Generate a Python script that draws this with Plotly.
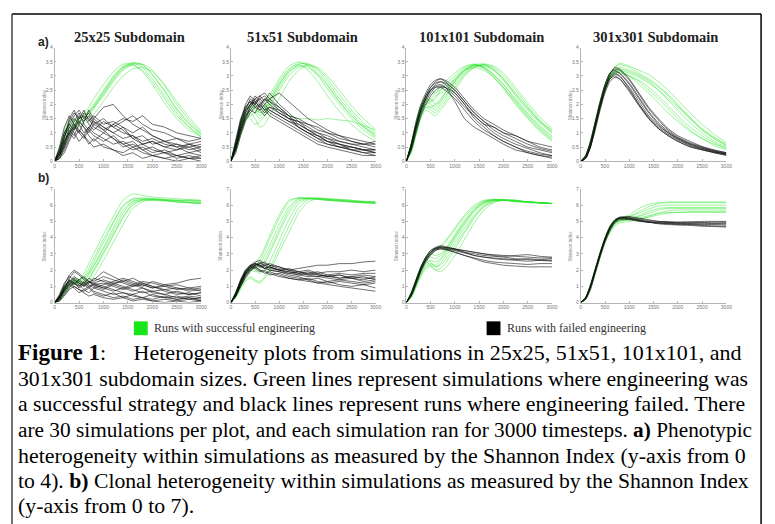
import plotly.graph_objects as go

# The page body has an 8px margin: the figure is sized to fill the rest of the window.
OFF = 8
W, H = 775 - OFF, 524 - OFF

# ---------------- data ----------------
T = [0, 100, 200, 300, 400, 500, 600, 700, 800, 1000, 1200, 1400, 1600, 1800, 2000, 2250, 2500, 2750, 3000]
PANEL_TITLES = ["25x25 Subdomain", "51x51 Subdomain", "101x101 Subdomain", "301x301 Subdomain"]
X_TICKS = [0, 500, 1000, 1500, 2000, 2500, 3000]
Y_TICKS_A = [0, 0.5, 1, 1.5, 2, 2.5, 3, 3.5, 4]
Y_TICK_LABELS_A = ["0", "0.5", "1", "1.5", "2", "2.5", "3", "3.5", "4"]
Y_TICKS_B = [0, 1, 2, 3, 4, 5, 6, 7]

# a) phenotypic heterogeneity
A1_GREEN = [
    [0,0.3,0.9,1.3,1.2,1.4,1.5,1.7,1.9,2.4,2.9,3.3,3.45,3.3,2.9,2.3,1.7,1.2,0.85],
    [0,0.2,0.7,1.1,1.4,1.5,1.6,1.8,2.0,2.5,3.0,3.35,3.48,3.4,3.05,2.45,1.8,1.3,0.95],
    [0,0.4,1.0,1.4,1.5,1.4,1.5,1.7,1.9,2.3,2.8,3.2,3.4,3.42,3.2,2.65,2.0,1.45,1.0],
    [0,0.1,0.5,0.9,1.2,1.5,1.7,1.9,2.2,2.7,3.15,3.42,3.4,3.15,2.7,2.05,1.5,1.1,0.85],
    [0,0.3,0.8,1.2,1.3,1.2,1.3,1.45,1.65,2.1,2.6,3.0,3.25,3.3,3.15,2.7,2.1,1.55,1.05],
    [0,0.2,0.6,1.0,1.3,1.5,1.6,1.75,1.95,2.45,2.95,3.3,3.38,3.2,2.8,2.2,1.6,1.2,0.9],
    [0,0.5,1.1,1.5,1.4,1.3,1.45,1.6,1.85,2.35,2.85,3.25,3.45,3.38,3.05,2.5,1.85,1.35,0.95],
]
A1_BLACK = [
    [0,0.4,1.0,1.3,1.6,1.8,1.5,1.7,1.4,1.2,1.0,0.8,0.9,0.6,0.7,0.5,0.4,0.6,0.5],
    [0,0.2,0.6,1.1,0.9,1.3,1.7,1.5,1.2,1.0,1.3,1.1,0.8,0.9,0.6,0.7,0.5,0.3,0.4],
    [0,0.3,0.8,1.5,1.8,1.4,1.2,1.0,1.3,1.5,1.2,1.4,1.6,1.3,1.1,1.0,0.8,0.7,0.8],
    [0,0.1,0.4,0.8,1.2,1.0,1.4,1.6,1.3,1.1,0.8,0.6,0.7,0.4,0.5,0.3,0.2,0.3,0.2],
    [0,0.5,1.2,1.6,1.3,1.0,0.8,1.1,0.9,0.7,0.9,0.6,0.4,0.5,0.3,0.4,0.2,0.1,0.2],
    [0,0.2,0.7,1.0,1.4,1.7,1.3,1.1,1.5,1.9,2.0,1.6,1.3,1.1,0.9,0.7,0.6,0.5,0.6],
    [0,0.3,0.9,1.2,1.0,0.7,0.9,1.2,1.0,0.8,0.6,0.7,0.5,0.6,0.4,0.3,0.4,0.5,0.3],
    [0,0.1,0.3,0.7,1.1,1.5,1.8,1.4,1.6,1.3,1.4,1.2,1.0,1.2,0.9,0.7,0.8,0.6,0.7],
    [0,0.4,1.0,1.3,1.1,1.4,1.2,0.9,0.7,1.0,0.8,0.5,0.6,0.4,0.2,0.3,0.1,0.2,0.1],
    [0,0.2,0.5,0.9,1.3,1.1,0.9,0.6,0.8,0.5,0.4,0.3,0.5,0.3,0.2,0.1,0.2,0.1,0.1],
    [0,0.3,0.8,1.4,1.7,1.5,1.6,1.3,1.1,1.4,1.2,1.0,0.9,0.7,0.8,0.6,0.5,0.6,0.4],
    [0,0.1,0.5,1.0,1.2,1.6,1.4,1.8,1.5,1.2,1.0,1.2,0.8,0.6,0.7,0.5,0.6,0.4,0.5],
    [0,0.2,0.6,1.2,1.5,1.3,1.0,1.2,1.4,1.1,1.3,1.5,1.4,1.6,1.3,1.2,1.0,0.9,0.8],
    [0,0.3,0.7,1.0,0.8,1.1,0.9,0.7,0.5,0.6,0.4,0.2,0.3,0.1,0.2,0.1,0.0,0.1,0.0],
]
A2_GREEN = [
    [0,0.6,1.3,1.8,2.0,1.8,1.6,1.8,2.1,2.7,3.2,3.45,3.4,3.1,2.7,2.1,1.6,1.2,0.9],
    [0,0.4,1.1,1.6,1.9,2.0,1.9,2.0,2.3,2.9,3.35,3.5,3.35,3.0,2.55,2.0,1.5,1.1,0.8],
    [0,0.5,1.2,1.7,1.5,1.3,1.4,1.6,1.9,2.5,3.0,3.3,3.4,3.25,2.9,2.35,1.8,1.35,1.0],
    [0,0.7,1.4,1.9,2.1,1.9,1.7,1.9,2.2,2.8,3.25,3.4,3.2,2.8,2.3,1.75,1.3,0.95,0.7],
    [0,0.3,0.9,1.4,1.7,1.5,1.2,1.3,1.6,2.2,2.8,3.2,3.38,3.3,3.0,2.5,1.95,1.5,1.1],
    [0,0.5,1.1,1.5,1.6,1.7,1.8,1.9,2.0,1.8,1.6,1.5,1.5,1.45,1.5,1.45,1.4,1.25,1.1],
    [0,0.6,1.3,1.8,1.9,1.7,1.5,1.7,2.0,2.6,3.1,3.4,3.45,3.2,2.8,2.2,1.7,1.25,0.95],
    [0,0.4,1.0,1.5,1.8,1.9,1.7,1.8,2.1,2.7,3.15,3.35,3.3,3.05,2.65,2.1,1.6,1.2,0.85],
]
A2_BLACK = [
    [0,0.6,1.3,1.8,2.0,2.1,1.9,2.2,2.1,1.8,1.5,1.2,1.0,0.8,0.7,0.6,0.5,0.4,0.4],
    [0,0.5,1.1,1.6,1.9,2.2,2.3,2.1,2.4,2.0,1.7,1.4,1.1,0.9,0.7,0.6,0.5,0.4,0.3],
    [0,0.7,1.4,1.9,2.1,1.9,2.0,1.8,1.9,1.7,1.5,1.4,1.2,1.0,0.9,0.7,0.6,0.6,0.5],
    [0,0.4,1.0,1.5,1.8,2.0,2.2,2.3,2.1,1.9,1.6,1.3,1.1,0.9,0.8,0.6,0.4,0.3,0.3],
    [0,0.6,1.2,1.7,2.0,2.3,2.1,1.9,1.7,1.5,1.3,1.1,0.9,0.7,0.6,0.5,0.4,0.3,0.2],
    [0,0.5,1.3,1.8,2.2,2.0,1.8,2.0,2.2,2.4,2.1,1.8,1.5,1.3,1.1,0.9,0.7,0.6,0.6],
    [0,0.3,0.9,1.4,1.7,1.9,1.8,1.6,1.8,1.6,1.4,1.3,1.1,1.0,0.8,0.7,0.6,0.5,0.4],
    [0,0.6,1.4,2.0,2.3,2.1,2.2,2.0,1.8,1.6,1.4,1.2,1.0,0.9,0.7,0.5,0.4,0.4,0.3],
    [0,0.5,1.1,1.6,1.8,1.7,2.0,2.2,2.0,1.7,1.5,1.4,1.3,1.1,1.0,0.8,0.7,0.6,0.7],
    [0,0.4,1.2,1.7,2.0,2.2,2.0,1.8,1.6,1.4,1.2,1.0,0.8,0.6,0.5,0.4,0.3,0.2,0.2],
    [0,0.7,1.5,1.9,2.1,2.0,2.3,2.4,2.2,1.9,1.6,1.2,1.0,0.8,0.6,0.5,0.5,0.4,0.4],
    [0,0.5,1.0,1.5,1.9,2.1,1.9,1.7,1.9,1.8,1.6,1.5,1.3,1.2,1.0,0.9,0.8,0.7,0.6],
]
A3_GREEN = [
    [0,0.5,1.2,1.8,2.1,2.2,2.0,2.1,2.3,2.7,3.1,3.35,3.4,3.2,2.9,2.4,1.9,1.4,1.0],
    [0,0.4,1.0,1.6,1.9,1.9,1.8,2.0,2.2,2.8,3.2,3.4,3.3,3.05,2.7,2.2,1.7,1.25,0.9],
    [0,0.6,1.3,1.9,2.3,2.5,2.4,2.6,2.8,3.1,3.35,3.42,3.3,3.0,2.6,2.05,1.55,1.1,0.75],
    [0,0.3,0.9,1.5,1.8,1.7,1.6,1.8,2.0,2.5,3.0,3.3,3.42,3.35,3.1,2.6,2.05,1.55,1.15],
    [0,0.5,1.1,1.7,2.0,2.1,2.3,2.4,2.5,2.9,3.25,3.38,3.25,2.95,2.55,2.0,1.5,1.05,0.7],
    [0,0.4,1.1,1.7,2.1,2.0,1.9,2.1,2.4,2.85,3.2,3.35,3.35,3.2,2.85,2.3,1.8,1.35,1.0],
    [0,0.6,1.4,2.0,2.2,2.1,2.2,2.5,2.7,3.0,3.3,3.4,3.3,3.05,2.7,2.15,1.65,1.2,0.85],
    [0,0.3,1.0,1.6,1.9,1.8,1.7,1.9,2.1,2.6,3.05,3.3,3.38,3.3,3.0,2.5,1.95,1.45,1.05],
    [0,0.5,1.2,1.8,2.0,2.2,2.4,2.5,2.6,2.9,3.2,3.3,3.2,2.95,2.6,2.1,1.6,1.15,0.8],
    [0,0.4,1.1,1.7,2.0,1.9,2.0,2.2,2.4,2.8,3.15,3.4,3.42,3.25,2.9,2.35,1.85,1.4,1.1],
]
A3_BLACK = [
    [0,0.5,1.2,1.8,2.2,2.5,2.7,2.8,2.75,2.5,2.1,1.7,1.4,1.1,0.9,0.7,0.5,0.4,0.3],
    [0,0.6,1.3,1.9,2.3,2.6,2.8,2.9,2.85,2.6,2.2,1.8,1.5,1.3,1.1,0.9,0.7,0.5,0.4],
    [0,0.4,1.1,1.7,2.1,2.4,2.6,2.65,2.6,2.1,1.5,1.2,1.0,0.8,0.6,0.4,0.3,0.2,0.15],
    [0,0.5,1.2,1.8,2.2,2.5,2.65,2.7,2.6,2.3,1.9,1.6,1.3,1.2,1.0,0.9,0.7,0.6,0.5],
    [0,0.6,1.4,2.0,2.4,2.7,2.85,2.9,2.8,2.5,2.1,1.7,1.4,1.2,1.0,0.8,0.6,0.45,0.35],
    [0,0.5,1.2,1.8,2.2,2.5,2.6,2.6,2.5,2.2,1.8,1.4,1.1,0.9,0.7,0.5,0.35,0.25,0.2],
    [0,0.4,1.0,1.6,2.0,2.3,2.5,2.6,2.6,2.4,2.0,1.6,1.3,1.0,0.8,0.6,0.45,0.3,0.2],
    [0,0.6,1.3,1.9,2.3,2.6,2.75,2.8,2.7,2.4,2.0,1.5,1.2,0.9,0.7,0.5,0.3,0.2,0.1],
]
A4_GREEN = [
    [0,0.15,0.6,1.3,2.0,2.6,3.0,3.2,3.25,3.15,3.0,2.8,2.5,2.15,1.8,1.35,1.0,0.7,0.5],
    [0,0.1,0.5,1.2,1.9,2.5,2.9,3.1,3.1,3.0,2.85,2.6,2.3,1.95,1.6,1.2,0.9,0.65,0.45],
    [0,0.2,0.7,1.4,2.1,2.7,3.1,3.3,3.4,3.3,3.1,2.9,2.65,2.35,2.0,1.55,1.15,0.85,0.6],
    [0,0.15,0.6,1.3,2.0,2.6,3.0,3.2,3.2,3.0,2.7,2.4,2.05,1.7,1.4,1.05,0.8,0.6,0.45],
    [0,0.1,0.55,1.25,1.95,2.55,2.95,3.15,3.2,3.1,2.95,2.75,2.5,2.2,1.9,1.5,1.1,0.8,0.55],
    [0,0.2,0.65,1.35,2.05,2.65,3.05,3.3,3.45,3.35,3.2,3.05,2.8,2.5,2.15,1.7,1.3,0.95,0.65],
    [0,0.1,0.5,1.2,1.9,2.5,2.9,3.1,3.15,3.0,2.8,2.5,2.2,1.85,1.5,1.1,0.8,0.55,0.4],
    [0,0.15,0.6,1.3,2.0,2.6,3.0,3.2,3.3,3.2,3.05,2.85,2.6,2.3,1.95,1.5,1.1,0.8,0.55],
]
A4_BLACK = [
    [0,0.15,0.6,1.3,2.0,2.6,3.0,3.15,3.1,2.7,2.2,1.7,1.3,1.0,0.8,0.6,0.45,0.35,0.25],
    [0,0.1,0.5,1.2,1.9,2.5,2.9,3.05,3.0,2.55,2.0,1.5,1.15,0.9,0.7,0.5,0.4,0.3,0.2],
    [0,0.2,0.7,1.4,2.1,2.7,3.1,3.25,3.2,2.85,2.35,1.85,1.45,1.1,0.85,0.65,0.5,0.38,0.3],
    [0,0.1,0.5,1.1,1.8,2.4,2.8,2.95,2.9,2.5,2.0,1.55,1.2,0.95,0.75,0.55,0.42,0.32,0.25],
    [0,0.15,0.6,1.3,2.0,2.6,3.05,3.3,3.25,2.9,2.4,1.9,1.5,1.15,0.9,0.7,0.52,0.4,0.3],
    [0,0.1,0.55,1.25,1.95,2.55,2.95,3.1,3.0,2.6,2.1,1.6,1.25,1.0,0.78,0.58,0.45,0.33,0.25],
    [0,0.2,0.7,1.4,2.1,2.7,3.1,3.2,3.1,2.75,2.25,1.75,1.35,1.05,0.82,0.62,0.48,0.36,0.28],
    [0,0.1,0.5,1.2,1.9,2.5,2.9,3.0,2.9,2.45,1.95,1.5,1.15,0.9,0.7,0.52,0.4,0.3,0.22],
]

# b) clonal heterogeneity
B1_GREEN = [
    [0,0.3,0.8,1.2,1.3,1.4,1.8,2.4,3.0,4.2,5.3,6.3,6.7,6.6,6.5,6.45,6.4,6.35,6.3],
    [0,0.2,0.7,1.1,1.3,1.2,1.3,1.7,2.2,3.3,4.4,5.5,6.2,6.35,6.4,6.35,6.3,6.25,6.2],
    [0,0.4,1.0,1.3,1.5,1.4,1.5,1.9,2.5,3.7,4.9,5.9,6.35,6.4,6.35,6.3,6.25,6.2,6.15],
    [0,0.1,0.5,0.9,1.2,1.3,1.2,1.4,1.9,3.0,4.1,5.2,6.0,6.3,6.35,6.3,6.2,6.15,6.1],
    [0,0.3,0.9,1.3,1.4,1.2,1.1,1.3,1.6,2.6,3.7,4.8,5.8,6.2,6.35,6.35,6.3,6.3,6.25],
    [0,0.2,0.6,1.0,1.2,1.3,1.6,2.1,2.7,3.9,5.0,6.0,6.4,6.45,6.4,6.3,6.2,6.15,6.1],
    [0,0.3,0.8,1.2,1.4,1.3,1.4,1.8,2.3,3.4,4.6,5.7,6.25,6.35,6.3,6.25,6.2,6.15,6.1],
    [0,0.2,0.7,1.1,1.2,1.1,1.2,1.5,2.0,3.1,4.2,5.3,6.1,6.3,6.3,6.3,6.3,6.3,6.3],
]
B1_BLACK = [
    [0,0.4,1.0,1.4,1.2,0.9,1.1,1.3,1.0,0.8,1.1,0.9,0.7,0.9,0.6,0.5,0.7,0.5,0.6],
    [0,0.3,0.8,1.5,1.9,1.7,1.4,1.2,1.5,1.3,1.1,1.4,1.2,1.0,1.3,1.1,1.2,1.4,1.5],
    [0,0.2,0.6,1.0,1.3,1.1,0.8,0.6,0.9,0.7,0.5,0.6,0.4,0.3,0.5,0.3,0.2,0.3,0.2],
    [0,0.5,1.2,1.6,1.4,1.2,1.0,1.2,1.4,1.9,1.6,1.3,1.5,1.2,1.0,0.8,0.9,0.7,0.8],
    [0,0.3,0.7,1.1,0.9,0.6,0.8,1.0,0.7,0.5,0.3,0.4,0.2,0.3,0.1,0.2,0.1,0.2,0.1],
    [0,0.2,0.9,1.3,1.6,1.4,1.2,1.0,1.1,1.2,1.0,0.8,1.0,1.2,1.0,0.7,0.5,0.6,0.4],
    [0,0.4,1.1,1.7,2.0,1.8,1.5,1.3,1.1,0.9,1.2,1.0,0.8,0.6,0.7,0.5,0.3,0.4,0.3],
    [0,0.1,0.5,0.9,1.2,1.0,1.3,1.1,0.9,1.1,1.3,1.5,1.3,1.1,0.9,1.0,0.8,0.9,0.7],
    [0,0.3,0.8,1.2,1.0,0.8,0.6,0.4,0.5,0.3,0.2,0.3,0.1,0.2,0.1,0.0,0.1,0.0,0.1],
    [0,0.2,0.7,1.1,1.4,1.2,1.0,1.3,1.1,0.9,0.7,0.9,1.1,0.9,0.7,0.8,0.6,0.5,0.6],
    [0,0.4,1.0,1.3,1.1,1.4,1.6,1.3,1.2,1.0,0.8,0.6,0.5,0.7,0.4,0.3,0.4,0.2,0.3],
    [0,0.3,0.9,1.4,1.2,1.0,1.2,1.5,1.3,1.6,1.4,1.2,1.0,1.1,0.9,1.1,0.9,0.8,0.9],
    [0,0.1,0.4,0.8,1.0,0.8,0.7,0.9,0.6,0.4,0.6,0.3,0.5,0.3,0.2,0.4,0.2,0.3,0.1],
    [0,0.3,0.8,1.2,1.5,1.3,1.1,0.9,1.2,1.4,1.2,1.3,1.1,1.3,1.2,1.0,1.1,0.9,1.0],
]
B2_GREEN = [
    [0,0.5,1.2,1.8,2.1,2.3,2.6,3.2,3.9,5.2,6.2,6.45,6.4,6.35,6.3,6.25,6.2,6.15,6.15],
    [0,0.4,1.0,1.6,2.0,2.1,2.2,2.6,3.2,4.5,5.7,6.35,6.45,6.4,6.35,6.3,6.25,6.2,6.15],
    [0,0.6,1.3,1.9,2.2,2.0,1.8,2.0,2.5,3.8,5.1,6.1,6.4,6.4,6.35,6.3,6.2,6.15,6.1],
    [0,0.3,0.9,1.4,1.6,1.4,1.3,1.6,2.1,3.4,4.7,5.8,6.35,6.45,6.4,6.35,6.3,6.2,6.2],
    [0,0.5,1.1,1.7,2.1,2.4,2.8,3.4,4.1,5.4,6.3,6.45,6.4,6.35,6.3,6.25,6.2,6.2,6.15],
    [0,0.4,1.2,1.8,2.1,2.2,2.4,2.9,3.5,4.8,5.9,6.4,6.45,6.4,6.35,6.3,6.25,6.2,6.2],
    [0,0.3,0.8,1.3,1.5,1.3,1.2,1.5,1.9,3.1,4.3,5.5,6.2,6.4,6.4,6.35,6.3,6.25,6.2],
    [0,0.5,1.2,1.7,2.0,1.9,2.0,2.4,3.0,4.3,5.5,6.25,6.4,6.4,6.3,6.25,6.2,6.15,6.1],
]
B2_BLACK = [
    [0,0.5,1.2,1.8,2.2,2.4,2.3,2.1,2.2,2.0,1.9,1.8,1.7,1.6,1.7,1.5,1.6,1.5,1.5],
    [0,0.6,1.4,2.0,2.3,2.5,2.6,2.4,2.3,2.2,2.0,2.1,2.2,2.3,2.3,2.4,2.4,2.5,2.55],
    [0,0.4,1.0,1.6,2.0,2.2,2.0,1.8,1.9,1.7,1.5,1.4,1.3,1.2,1.1,1.0,0.9,0.8,0.7],
    [0,0.5,1.3,1.9,2.3,2.4,2.2,2.3,2.1,2.0,1.8,1.9,1.7,1.8,1.6,1.7,1.5,1.6,1.4],
    [0,0.4,1.1,1.7,2.1,2.3,2.4,2.5,2.3,2.1,2.0,1.9,2.0,1.8,1.9,1.9,2.0,1.9,2.0],
    [0,0.6,1.3,1.9,2.2,2.1,1.9,2.0,1.8,1.6,1.5,1.4,1.5,1.3,1.2,1.3,1.2,1.1,1.2],
    [0,0.5,1.2,1.8,2.1,2.3,2.5,2.3,2.2,2.0,1.9,1.7,1.8,1.7,1.6,1.5,1.6,1.7,1.6],
    [0,0.4,1.0,1.5,1.9,2.2,2.3,2.2,2.0,1.9,1.7,1.6,1.4,1.5,1.3,1.4,1.3,1.2,1.3],
    [0,0.5,1.2,1.8,2.2,2.4,2.2,2.1,2.2,2.0,2.1,1.9,1.8,1.9,1.7,1.8,1.7,1.8,1.8],
    [0,0.6,1.4,2.0,2.3,2.2,2.0,1.9,1.7,1.8,1.6,1.5,1.4,1.2,1.3,1.1,1.0,1.1,0.9],
    [0,0.4,1.1,1.7,2.0,2.3,2.4,2.3,2.4,2.2,2.0,1.8,1.9,1.7,1.6,1.7,1.5,1.4,1.6],
    [0,0.5,1.3,1.9,2.2,2.4,2.3,2.1,2.0,1.9,1.8,1.7,1.6,1.6,1.5,1.4,1.5,1.3,1.4],
]
B3_GREEN = [
    [0,0.5,1.3,2.1,2.7,3.1,3.3,3.5,3.8,4.6,5.4,6.0,6.3,6.35,6.3,6.2,6.15,6.1,6.1],
    [0,0.4,1.1,1.8,2.3,2.4,2.3,2.6,3.0,3.9,4.8,5.6,6.1,6.3,6.3,6.25,6.2,6.15,6.1],
    [0,0.6,1.4,2.2,2.6,2.5,2.2,2.3,2.6,3.5,4.4,5.3,5.9,6.2,6.3,6.25,6.2,6.15,6.1],
    [0,0.3,0.9,1.6,2.1,2.2,2.0,2.1,2.4,3.3,4.3,5.2,5.9,6.25,6.3,6.25,6.2,6.15,6.1],
    [0,0.5,1.2,2.0,2.6,3.0,3.2,3.4,3.7,4.5,5.3,5.9,6.25,6.35,6.3,6.25,6.2,6.15,6.1],
    [0,0.4,1.1,1.9,2.4,2.6,2.5,2.7,3.1,4.0,4.9,5.7,6.2,6.35,6.35,6.3,6.2,6.15,6.1],
    [0,0.5,1.2,2.0,2.5,2.3,2.0,1.9,2.1,2.9,3.9,4.9,5.7,6.15,6.3,6.3,6.2,6.15,6.1],
    [0,0.6,1.4,2.2,2.8,3.0,2.9,3.0,3.3,4.2,5.1,5.8,6.2,6.3,6.3,6.25,6.2,6.15,6.1],
    [0,0.3,1.0,1.7,2.2,2.3,2.2,2.4,2.8,3.7,4.6,5.4,6.0,6.3,6.35,6.3,6.2,6.15,6.1],
    [0,0.5,1.3,2.1,2.6,2.8,2.7,2.9,3.2,4.1,5.0,5.7,6.15,6.3,6.3,6.25,6.2,6.15,6.1],
]
B3_BLACK = [
    [0,0.5,1.3,2.1,2.7,3.1,3.35,3.45,3.4,3.3,3.2,3.1,3.0,2.95,2.9,2.85,2.8,2.75,2.75],
    [0,0.6,1.4,2.2,2.8,3.2,3.4,3.5,3.45,3.3,3.1,2.9,2.8,2.7,2.65,2.6,2.55,2.6,2.6],
    [0,0.4,1.2,2.0,2.6,3.0,3.25,3.3,3.25,3.1,2.9,2.7,2.5,2.4,2.3,2.25,2.2,2.2,2.2],
    [0,0.5,1.3,2.1,2.7,3.1,3.3,3.4,3.35,3.25,3.1,3.0,2.9,2.85,2.8,2.7,2.65,2.6,2.55],
    [0,0.5,1.2,2.0,2.6,3.0,3.3,3.4,3.4,3.3,3.2,3.1,3.0,2.9,2.85,2.9,2.95,2.85,2.8],
    [0,0.6,1.4,2.2,2.8,3.2,3.35,3.35,3.3,3.1,2.9,2.75,2.6,2.5,2.45,2.4,2.35,2.4,2.4],
    [0,0.4,1.1,1.9,2.5,2.9,3.2,3.3,3.3,3.2,3.05,2.9,2.8,2.75,2.7,2.65,2.7,2.65,2.7],
]
B4_GREEN = [
    [0,0.3,1.0,2.0,3.0,3.9,4.5,4.9,5.1,5.3,5.6,5.9,6.1,6.15,6.15,6.15,6.15,6.15,6.15],
    [0,0.2,0.9,1.9,2.9,3.8,4.4,4.8,5.0,5.1,5.2,5.35,5.5,5.55,5.55,5.55,5.55,5.55,5.55],
    [0,0.3,1.1,2.1,3.1,4.0,4.7,5.1,5.2,5.3,5.5,5.75,5.95,6.0,6.0,6.0,6.0,6.0,6.0],
    [0,0.2,0.8,1.8,2.8,3.7,4.3,4.7,4.9,5.0,5.1,5.3,5.5,5.65,5.7,5.7,5.7,5.7,5.7],
    [0,0.3,1.0,2.0,3.0,3.9,4.6,5.0,5.15,5.2,5.35,5.6,5.8,5.85,5.85,5.85,5.85,5.85,5.85],
    [0,0.25,0.95,1.95,2.95,3.85,4.5,4.9,5.05,5.1,5.15,5.25,5.4,5.5,5.55,5.6,5.6,5.6,5.6],
    [0,0.3,1.0,2.0,3.0,3.9,4.6,5.0,5.2,5.4,5.8,6.05,6.15,6.2,6.2,6.2,6.2,6.2,6.2],
    [0,0.2,0.9,1.9,2.9,3.8,4.45,4.85,5.0,5.15,5.3,5.5,5.7,5.8,5.8,5.8,5.8,5.8,5.8],
]
B4_BLACK = [
    [0,0.3,1.0,2.0,3.0,3.9,4.6,5.0,5.15,5.1,5.0,4.95,4.9,4.9,4.88,4.87,4.85,4.85,4.85],
    [0,0.2,0.9,1.9,2.9,3.8,4.5,4.95,5.2,5.2,5.05,4.95,4.9,4.85,4.8,4.8,4.75,4.72,4.7],
    [0,0.3,1.1,2.1,3.1,4.0,4.7,5.1,5.25,5.2,5.1,5.0,4.95,4.95,4.95,4.97,5.0,5.0,5.0],
    [0,0.2,0.8,1.8,2.8,3.7,4.4,4.9,5.1,5.15,5.05,4.95,4.85,4.8,4.78,4.75,4.7,4.68,4.65],
    [0,0.3,1.0,2.0,3.0,3.9,4.6,5.05,5.25,5.3,5.2,5.1,5.0,4.95,4.9,4.9,4.9,4.88,4.9],
    [0,0.25,0.95,1.95,2.95,3.85,4.55,5.0,5.2,5.15,5.05,4.95,4.9,4.88,4.85,4.82,4.8,4.8,4.78],
    [0,0.3,1.05,2.05,3.05,3.95,4.65,5.05,5.2,5.25,5.15,5.05,5.0,4.98,4.95,4.95,4.93,4.95,4.95],
]

PANELS = [
    (A1_GREEN, A1_BLACK), (A2_GREEN, A2_BLACK), (A3_GREEN, A3_BLACK), (A4_GREEN, A4_BLACK),
    (B1_GREEN, B1_BLACK), (B2_GREEN, B2_BLACK), (B3_GREEN, B3_BLACK), (B4_GREEN, B4_BLACK),
]

NB = "\u00a0"
CAPTION = [
    "<span style='font-size:23px'><b>Figure 1</b></span>:" + NB * 5 + "Heterogeneity plots from simulations in 25x25, 51x51, 101x101, and",
    "301x301 subdomain sizes. Green lines represent simulations where engineering was",
    "a successful strategy and black lines represent runs where engineering failed. There",
    "are 30 simulations per plot, and each simulation ran for 3000 timesteps. <b>a)</b> Phenotypic",
    "heterogeneity within simulations as measured by the Shannon Index (y-axis from 0",
    "to 4). <b>b)</b> Clonal heterogeneity within simulations as measured by the Shannon Index",
    "(y-axis from 0 to 7).",
]
CAPTION_SIZES = [22.0, 21.7, 21.8, 21.3, 21.9, 21.7, 21.8]

# ---------------- layout helpers (window pixel -> paper) ----------------
def px(x):
    return (x - OFF) / W

def py(y):
    return 1 - (y - OFF) / H

COLS = [(54, 202), (232, 378), (409, 556), (585, 732)]
ROWS = [(45, 160), (188, 303)]

GREEN = "rgba(40,228,40,0.5)"
BLACK = "rgba(15,15,15,0.75)"
AX = "#b5b5b5"
SERIF = "Liberation Serif"
SANS = "Liberation Sans"

fig = go.Figure()
layout = {}
annotations = []

for k, (greens, blacks) in enumerate(PANELS):
    r, c = divmod(k, 4)
    n = k + 1
    xa = "x" if n == 1 else f"x{n}"
    ya = "y" if n == 1 else f"y{n}"
    smooth_black = c >= 2
    for g in greens:
        fig.add_trace(go.Scatter(x=T, y=g, mode="lines", xaxis=xa, yaxis=ya,
                                 line=dict(color=GREEN, width=0.9, shape="spline", smoothing=0.6),
                                 hoverinfo="skip", showlegend=False))
    for b in blacks:
        fig.add_trace(go.Scatter(x=T, y=b, mode="lines", xaxis=xa, yaxis=ya,
                                 line=dict(color=BLACK, width=0.8,
                                           shape="spline" if smooth_black else "linear",
                                           smoothing=0.6),
                                 hoverinfo="skip", showlegend=False))
    x0, x1 = COLS[c]
    y0, y1 = ROWS[r]
    if r == 0:
        yt, ytt, yr = Y_TICKS_A, Y_TICK_LABELS_A, [0, 4]
    else:
        yt, ytt, yr = Y_TICKS_B, [str(v) for v in Y_TICKS_B], [0, 7]
    layout["xaxis" if n == 1 else f"xaxis{n}"] = dict(
        domain=[px(x0), px(x1)], anchor=ya, range=[0, 3000],
        tickvals=X_TICKS, ticktext=[str(v) for v in X_TICKS],
        showline=True, linecolor=AX, linewidth=0.8, ticks="inside", ticklen=2,
        tickcolor=AX, tickwidth=0.6, tickfont=dict(size=5, color="#777", family=SANS),
        showgrid=False, zeroline=False, fixedrange=True)
    layout["yaxis" if n == 1 else f"yaxis{n}"] = dict(
        domain=[py(y1), py(y0)], anchor=xa, range=yr,
        tickvals=yt, ticktext=ytt,
        showline=True, linecolor=AX, linewidth=0.8, ticks="inside", ticklen=2,
        tickcolor=AX, tickwidth=0.6, tickfont=dict(size=5, color="#777", family=SANS),
        showgrid=False, zeroline=False, fixedrange=True)
    annotations.append(dict(x=px(x0 - 10), y=py((y0 + y1) / 2), xref="paper", yref="paper",
                            text="Shannon index", textangle=-90, showarrow=False,
                            font=dict(size=4.5, color="#888", family=SANS),
                            xanchor="center", yanchor="middle"))

# panel titles
TITLE_X = [130, 304, 485, 660]
for t, cx in zip(PANEL_TITLES, TITLE_X):
    annotations.append(dict(x=px(cx), y=py(34), xref="paper", yref="paper", text=f"<b>{t}</b>",
                            showarrow=False, font=dict(size=14.5, color="#222", family=SERIF),
                            xanchor="center", yanchor="middle"))
annotations.append(dict(x=px(35), y=py(39), xref="paper", yref="paper", text="<b>a)</b>",
                        showarrow=False, font=dict(size=12, color="#222", family=SANS),
                        xanchor="left", yanchor="middle"))
annotations.append(dict(x=px(35), y=py(177), xref="paper", yref="paper", text="<b>b)</b>",
                        showarrow=False, font=dict(size=12, color="#222", family=SANS),
                        xanchor="left", yanchor="middle"))

# legend
annotations.append(dict(x=px(152), y=py(329), xref="paper", yref="paper",
                        text="Runs with successful engineering", showarrow=False,
                        font=dict(size=12, color="#333", family=SERIF), xanchor="left", yanchor="middle"))
annotations.append(dict(x=px(509), y=py(329), xref="paper", yref="paper",
                        text="Runs with failed engineering", showarrow=False,
                        font=dict(size=12, color="#333", family=SERIF), xanchor="left", yanchor="middle"))

# caption
CAP_Y = [354, 380, 406, 432, 458, 484, 509]
for line, cy, fs in zip(CAPTION, CAP_Y, CAPTION_SIZES):
    annotations.append(dict(x=px(15), y=py(cy), xref="paper", yref="paper", text=line,
                            showarrow=False, font=dict(size=fs, color="black", family=SERIF),
                            xanchor="left", yanchor="middle"))

shapes = [
    dict(type="line", xref="paper", yref="paper", x0=px(11), x1=px(767), y0=py(11), y1=py(11),
         line=dict(color="black", width=1.5)),
    dict(type="line", xref="paper", yref="paper", x0=px(11), x1=px(11), y0=py(11), y1=py(530),
         line=dict(color="#444", width=1.5)),
    dict(type="line", xref="paper", yref="paper", x0=px(767), x1=px(767), y0=py(11), y1=py(530),
         line=dict(color="black", width=1.5)),
    dict(type="rect", xref="paper", yref="paper", x0=px(134), x1=px(148), y0=py(336), y1=py(322),
         fillcolor="#19e619", line=dict(width=0)),
    dict(type="rect", xref="paper", yref="paper", x0=px(490), x1=px(504), y0=py(336), y1=py(322),
         fillcolor="black", line=dict(width=0)),
]

fig.update_layout(width=W, height=H, margin=dict(l=0, r=0, t=0, b=0),
                  paper_bgcolor="white", plot_bgcolor="white",
                  annotations=annotations, shapes=shapes, **layout)
fig.write_html("out.html")
